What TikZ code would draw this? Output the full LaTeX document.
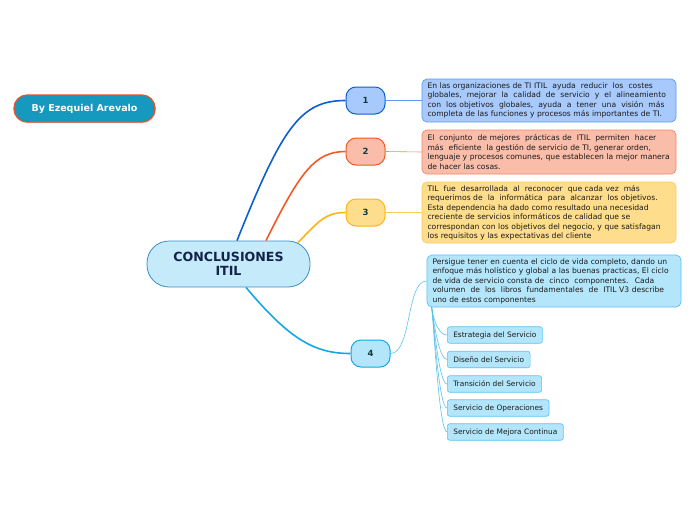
\documentclass[tikz,border=0pt]{standalone}
\usepackage{fontspec}
\setmainfont{DejaVu Sans}
\usetikzlibrary{shadows}
\definecolor{bfill}{HTML}{A8C9FB}
\definecolor{bline}{HTML}{0C5FCF}
\definecolor{bbox}{HTML}{5B9BF0}
\definecolor{ofill}{HTML}{F9BDA9}
\definecolor{oline}{HTML}{F15A24}
\definecolor{obox}{HTML}{F5876A}
\definecolor{yfill}{HTML}{FEDD8C}
\definecolor{yline}{HTML}{FBB515}
\definecolor{ybox}{HTML}{FCCB5A}
\definecolor{cfill}{HTML}{B4E6FB}
\definecolor{cline}{HTML}{15A6E8}
\definecolor{cbox}{HTML}{5AC3F0}
\definecolor{mfill}{HTML}{C5EBFB}
\definecolor{mline}{HTML}{3A8FC8}
\definecolor{btnfill}{HTML}{1599BF}
\definecolor{btnline}{HTML}{E8502A}
\definecolor{txt}{HTML}{1A1A1A}
\definecolor{numtxt}{HTML}{123A3A}
\definecolor{maintxt}{HTML}{13224A}
\newcommand\bodyfont{\fontsize{7.6}{9.5}\selectfont}
\newcommand\subfont{\fontsize{7.4}{9}\selectfont}
\newcommand\jl[1]{\makebox[\hsize][s]{#1}\\}
\begin{document}
\begin{tikzpicture}[x=1pt,y=-1pt,
  textbox/.style={rectangle, rounded corners=5pt, line width=0.7pt, text width=243pt,
    inner xsep=5.5pt, inner ysep=2pt, align=left, font=\bodyfont, text=txt},
  numbox/.style={rectangle, rounded corners=10pt, minimum width=39pt, minimum height=27pt,
    line width=1pt, font=\fontsize{8.5}{10}\selectfont\bfseries, text=numtxt},
  subbox/.style={rectangle, rounded corners=2.5pt, minimum height=16.5pt, inner xsep=6pt,
    line width=0.6pt, fill=cfill, draw=cbox, font=\subfont, text=txt, anchor=west},
  thickedge/.style={line width=1.6pt},
  thinedge/.style={line width=0.6pt}]
\useasboundingbox[fill=white] (0,0) rectangle (696,520);

% button
\node[rectangle, rounded corners=13pt, minimum width=141pt, minimum height=27pt,
  line width=1.2pt, fill=btnfill, draw=btnline, text=white,
  font=\fontsize{9.5}{11}\selectfont\bfseries,
  drop shadow={shadow xshift=0.8pt, shadow yshift=-1.2pt, opacity=0.35}] (btn) at (84.5,108.5) {By Ezequiel Arevalo};

% central
\node[rectangle, rounded corners=22pt, minimum width=163pt, minimum height=46pt,
  line width=0.8pt, fill=mfill, draw=mline, text=maintxt, align=center,
  font=\fontsize{12.6}{14}\selectfont\bfseries] (c) at (228.5,264) {CONCLUSIONES\\ITIL};

% numbers
\node[numbox, fill=bfill, draw=bline] (n1) at (365.5,100.5) {1};
\node[numbox, fill=ofill, draw=oline] (n2) at (365.5,151.5) {2};
\node[numbox, fill=yfill, draw=yline] (n3) at (365.5,212.5) {3};
\node[numbox, fill=cfill, draw=cline] (n4) at (370.5,353.5) {4};

% text boxes
\node[textbox, fill=bfill, draw=bbox, minimum height=43pt] (t1) at (549,100.5) {%
\jl{En las organizaciones de TI ITIL ~ayuda ~reducir ~los ~costes}%
\jl{globales, ~mejorar ~la ~calidad ~de ~servicio ~y ~el ~alineamiento}%
\jl{con ~los objetivos ~globales, ~ayuda ~a ~tener ~una ~visión ~más}%
completa de las funciones y procesos más importantes de TI.};

\node[textbox, fill=ofill, draw=obox, minimum height=44pt] (t2) at (549,152) {%
\jl{El ~conjunto ~de mejores ~prácticas de ~ITIL ~permiten ~hacer}%
más ~eficiente ~la gestión de servicio de TI, generar orden,\\
\jl{lenguaje y procesos comunes, que establecen la mejor manera}%
de hacer las cosas.};

\node[textbox, fill=yfill, draw=ybox, minimum height=61pt] (t3) at (549,212.5) {%
TIL ~fue ~desarrollada ~al ~reconocer ~que cada vez ~más\\
requerimos de ~la ~informática ~para ~alcanzar ~los objetivos.\\
Esta dependencia ha dado como resultado una necesidad\\
creciente de servicios informáticos de calidad que se\\
correspondan con los objetivos del negocio, y que satisfagan\\
los requisitos y las expectativas del cliente};

\node[textbox, fill=cfill, draw=cbox, minimum height=52pt] (t4) at (554,281) {%
Persigue tener en cuenta el ciclo de vida completo, dando un\\
enfoque más holístico y global a las buenas practicas, El ciclo\\
de vida de servicio consta de ~cinco ~componentes. ~Cada\\
\jl{volumen ~de ~los ~libros ~fundamentales ~de ~ITIL V3 describe}%
uno de estos componentes};

% sub boxes
\node[subbox] (s1) at (447,335) {Estrategia del Servicio};
\node[subbox] (s2) at (447,359.5) {Diseño del Servicio};
\node[subbox] (s3) at (447,384) {Transición del Servicio};
\node[subbox] (s4) at (447,408) {Servicio de Operaciones};
\node[subbox] (s5) at (447,432) {Servicio de Mejora Continua};

% main edges
\draw[thickedge, bline] ([xshift=8.5pt]c.north) .. controls (282,128) and (300,100.5) .. (n1.west);
\draw[thickedge, oline] ([xshift=37.5pt]c.north) .. controls (300,172) and (315,151.5) .. (n2.west);
\draw[thickedge, yline] ([xshift=69.5pt,yshift=-2pt]c.north) .. controls (318,222) and (325,212.5) .. (n3.west);
\draw[thickedge, cline] ([xshift=17.5pt]c.south) .. controls (290,340) and (315,353.5) .. (n4.west);

% thin edges
\draw[thinedge, bbox] (n1.east) -- (t1.west);
\draw[thinedge, obox] (n2.east) -- (t2.west);
\draw[thinedge, ybox] (n3.east) -- (t3.west);
\draw[thinedge, cbox] (n4.east) .. controls (412,353) and (406,281) .. (t4.west);

\coordinate (st) at ([xshift=5pt]t4.south west);
\foreach \s in {s1,s2,s3,s4,s5}{
  \draw[thinedge, cbox] (st) .. controls ([xshift=2pt,yshift=-14pt]st) and ([xshift=-8pt]\s.west) .. (\s.west);
}
\end{tikzpicture}
\end{document}
